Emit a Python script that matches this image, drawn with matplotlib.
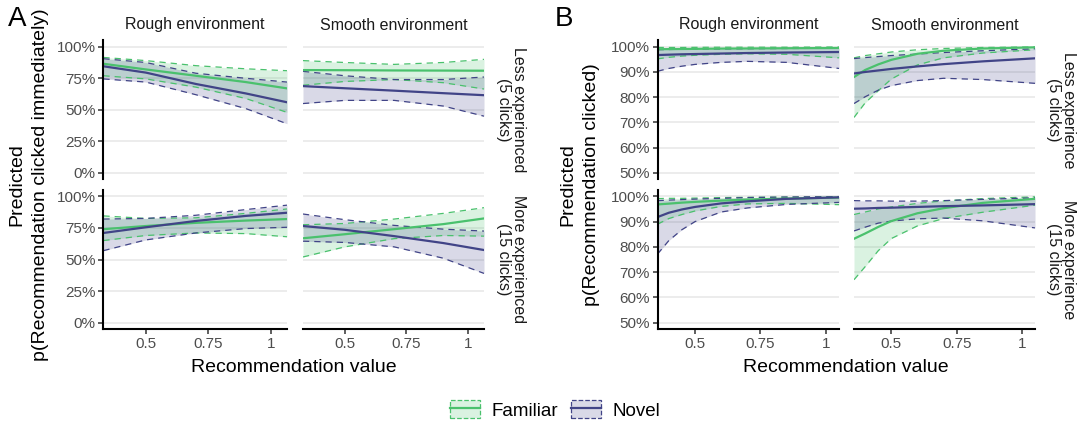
import matplotlib.pyplot as plt
from matplotlib.colors import to_rgba
from matplotlib.patches import Patch
from matplotlib.lines import Line2D
from matplotlib.legend_handler import HandlerTuple

plt.rcParams['font.family'] = ['Liberation Sans', 'DejaVu Sans']

FAM = '#4AC16D'
NOV = '#414487'
W, H = 1083, 428

# ---- panel A: p(clicked immediately), in %
a_x = [0.33, 0.5, 0.7, 0.9, 1.065]

# rough environment, less experienced
a_rl_fam = [86.5, 82.0, 77.0, 72.0, 67.0]
a_rl_fam_lo = [77.0, 74.5, 68.0, 59.0, 48.0]
a_rl_fam_hi = [91.5, 89.0, 85.0, 82.5, 81.0]
a_rl_nov = [84.5, 79.5, 70.5, 63.0, 56.0]
a_rl_nov_lo = [74.5, 72.0, 62.0, 51.0, 39.0]
a_rl_nov_hi = [90.5, 87.5, 79.0, 75.0, 72.0]
# smooth environment, less experienced
a_sl_fam = [81.5, 81.4, 81.2, 81.1, 81.0]
a_sl_fam_lo = [69.5, 72.5, 74.0, 71.5, 66.5]
a_sl_fam_hi = [89.0, 87.5, 86.0, 87.5, 90.0]
a_sl_nov = [68.8, 67.1, 65.2, 63.2, 61.6]
a_sl_nov_lo = [55.0, 57.5, 57.5, 53.0, 45.0]
a_sl_nov_hi = [80.5, 77.0, 74.0, 74.0, 76.0]
# rough environment, more experienced
a_rm_fam = [74.0, 76.5, 79.0, 80.8, 82.0]
a_rm_fam_lo = [65.0, 69.0, 71.0, 70.5, 68.0]
a_rm_fam_hi = [84.5, 82.5, 83.0, 86.5, 90.0]
a_rm_nov = [71.0, 75.5, 80.5, 84.5, 87.0]
a_rm_nov_lo = [57.0, 65.5, 71.0, 74.5, 75.5]
a_rm_nov_hi = [82.0, 82.5, 85.0, 89.5, 93.0]
# smooth environment, more experienced
a_sm_fam = [66.8, 70.0, 74.0, 78.0, 82.5]
a_sm_fam_lo = [52.0, 60.0, 66.5, 69.0, 68.5]
a_sm_fam_hi = [77.5, 78.5, 82.0, 86.5, 91.0]
a_sm_nov = [76.5, 73.5, 68.5, 63.0, 57.5]
a_sm_nov_lo = [64.5, 63.5, 60.0, 51.0, 39.0]
a_sm_nov_hi = [86.0, 81.5, 77.0, 74.0, 72.5]

# ---- panel B: p(clicked), in %
b_x = [0.357, 0.4, 0.45, 0.5, 0.6, 0.7, 0.85, 1.05]

b_rl_fam = [99.0, 99.05, 99.1, 99.15, 99.25, 99.3, 99.4, 99.5]
b_rl_fam_lo = [95.2, 95.8, 96.3, 96.6, 97.0, 97.2, 97.0, 95.6]
b_rl_fam_hi = [99.7, 99.7, 99.7, 99.75, 99.8, 99.8, 99.8, 99.9]
b_rl_nov = [96.7, 96.85, 97.0, 97.1, 97.3, 97.5, 97.7, 97.9]
b_rl_nov_lo = [90.3, 91.4, 92.3, 93.0, 93.8, 94.2, 93.8, 91.4]
b_rl_nov_hi = [98.8, 98.9, 99.0, 99.05, 99.1, 99.2, 99.3, 99.4]

b_sl_fam = [88.0, 90.8, 93.0, 94.8, 97.2, 98.4, 99.3, 99.75]
b_sl_fam_lo = [72.0, 77.8, 82.6, 87.2, 92.8, 95.6, 97.5, 98.8]
b_sl_fam_hi = [95.6, 96.5, 97.2, 97.9, 98.8, 99.3, 99.7, 99.9]
b_sl_nov = [89.4, 90.0, 90.6, 91.2, 92.2, 93.1, 94.2, 95.4]
b_sl_nov_lo = [77.5, 80.2, 82.8, 84.6, 86.6, 87.5, 87.0, 85.5]
b_sl_nov_hi = [95.3, 95.7, 96.1, 96.5, 97.1, 97.7, 98.4, 99.2]

b_rm_fam = [96.8, 97.1, 97.5, 97.8, 98.3, 98.7, 99.1, 99.5]
b_rm_fam_lo = [89.0, 91.2, 92.8, 94.2, 96.0, 97.0, 97.2, 96.7]
b_rm_fam_hi = [99.1, 99.2, 99.2, 99.3, 99.5, 99.6, 99.7, 99.8]
b_rm_nov = [91.8, 93.5, 94.8, 95.8, 97.2, 98.0, 99.0, 99.6]
b_rm_nov_lo = [77.2, 82.5, 86.8, 90.0, 93.8, 95.4, 96.8, 97.6]
b_rm_nov_hi = [98.3, 98.5, 98.7, 98.9, 99.2, 99.5, 99.7, 99.9]

b_sm_fam = [83.2, 85.3, 87.9, 90.2, 93.3, 95.3, 97.4, 99.0]
b_sm_fam_lo = [67.0, 72.2, 78.5, 83.3, 88.3, 91.2, 93.7, 96.5]
b_sm_fam_hi = [92.8, 93.8, 95.0, 95.8, 97.2, 98.2, 99.1, 99.8]
b_sm_nov = [95.1, 95.2, 95.4, 95.5, 95.8, 96.1, 96.4, 96.9]
b_sm_nov_lo = [86.3, 87.8, 89.4, 90.2, 91.1, 91.4, 90.3, 87.5]
b_sm_nov_hi = [98.3, 98.2, 98.2, 98.1, 98.1, 98.3, 98.8, 99.4]

envs = ['Rough environment', 'Smooth environment']
x_ticks = [0.5, 0.75, 1]
x_ticklabels = ['0.5', '0.75', '1']

panels = [
    dict(tag='A', x=a_x, cols=[(103.4, 287), (303, 484)],
         ylim=(-5, 105), yticks=[0, 25, 50, 75, 100],
         ylabel=['Predicted', 'p(Recommendation clicked immediately)'],
         rows=['Less experienced\n(5 clicks)', 'More experienced\n(15 clicks)'],
         strip_x=511, ylab_x=(17, 41), tag_x=17,
         data=[[(a_rl_fam, a_rl_fam_lo, a_rl_fam_hi, a_rl_nov, a_rl_nov_lo, a_rl_nov_hi),
                (a_sl_fam, a_sl_fam_lo, a_sl_fam_hi, a_sl_nov, a_sl_nov_lo, a_sl_nov_hi)],
               [(a_rm_fam, a_rm_fam_lo, a_rm_fam_hi, a_rm_nov, a_rm_nov_lo, a_rm_nov_hi),
                (a_sm_fam, a_sm_fam_lo, a_sm_fam_hi, a_sm_nov, a_sm_nov_lo, a_sm_nov_hi)]]),
    dict(tag='B', x=b_x, cols=[(657.6, 839), (854, 1035)],
         ylim=(47.5, 102.5), yticks=[50, 60, 70, 80, 90, 100],
         ylabel=['Predicted', 'p(Recommendation clicked)'],
         rows=['Less experience\n(5 clicks)', 'More experience\n(15 clicks)'],
         strip_x=1061, ylab_x=(568, 592), tag_x=564,
         data=[[(b_rl_fam, b_rl_fam_lo, b_rl_fam_hi, b_rl_nov, b_rl_nov_lo, b_rl_nov_hi),
                (b_sl_fam, b_sl_fam_lo, b_sl_fam_hi, b_sl_nov, b_sl_nov_lo, b_sl_nov_hi)],
               [(b_rm_fam, b_rm_fam_lo, b_rm_fam_hi, b_rm_nov, b_rm_nov_lo, b_rm_nov_hi),
                (b_sm_fam, b_sm_fam_lo, b_sm_fam_hi, b_sm_nov, b_sm_nov_lo, b_sm_nov_hi)]]),
]
row_px = [(40.4, 179.3), (190, 329)]

fig = plt.figure(figsize=(W / 100, H / 100), dpi=100)


def band(ax, x, lo, hi, color):
    ax.fill_between(x, lo, hi, color=color, alpha=0.2, lw=0)


def edges(ax, x, lo, hi, color):
    for s in (lo, hi):
        ax.plot(x, s, color=color, lw=0.9, ls=(0, (5, 4)))


for p in panels:
    for r, (y0, y1) in enumerate(row_px):
        for c, (x0, x1) in enumerate(p['cols']):
            ax = fig.add_axes([x0 / W, 1 - y1 / H, (x1 - x0) / W, (y1 - y0) / H])
            fam, fam_lo, fam_hi, nov, nov_lo, nov_hi = p['data'][r][c]
            x = p['x']
            band(ax, x, fam_lo, fam_hi, FAM)
            band(ax, x, nov_lo, nov_hi, NOV)
            edges(ax, x, fam_lo, fam_hi, FAM)
            edges(ax, x, nov_lo, nov_hi, NOV)
            ax.plot(x, fam, color=FAM, lw=1.6)
            ax.plot(x, nov, color=NOV, lw=1.6)

            ax.set_xlim(x[0], x[-1])
            ax.set_ylim(*p['ylim'])
            ax.set_yticks(p['yticks'])
            ax.set_yticklabels([f'{v}%' for v in p['yticks']])
            ax.set_xticks(x_ticks)
            ax.set_xticklabels(x_ticklabels)
            ax.set_axisbelow(True)
            ax.yaxis.grid(True, color='#EBEBEB', lw=1.3)
            ax.tick_params(colors='#333333', labelcolor='#4D4D4D', labelsize=11,
                           length=3.5, width=1.1, pad=2)
            for s in ax.spines.values():
                s.set_visible(False)
            if c == 0:
                ax.spines['left'].set_visible(True)
                ax.spines['left'].set_linewidth(1.5)
            else:
                ax.tick_params(axis='y', left=False, labelleft=False)
            if r == 1:
                ax.spines['bottom'].set_visible(True)
                ax.spines['bottom'].set_linewidth(1.5)
            else:
                ax.tick_params(axis='x', bottom=False, labelbottom=False)

            if r == 0:
                fig.text((x0 + x1) / 2 / W, 1 - 25 / H, envs[c], ha='center',
                         va='center', fontsize=11.5, color='#1A1A1A')
            if c == 1:
                fig.text(p['strip_x'] / W, 1 - (y0 + y1) / 2 / H, p['rows'][r],
                         rotation=-90, ha='center', va='center', fontsize=11.5,
                         color='#1A1A1A', linespacing=1.0, multialignment='center')

    left, right = p['cols'][0][0], p['cols'][1][1]
    fig.text((left + right) / 2 / W, 1 - 367 / H, 'Recommendation value',
             ha='center', va='center', fontsize=14)
    for lx, line in zip(p['ylab_x'], p['ylabel']):
        fig.text(lx / W, 1 - 184.5 / H, line, rotation=90,
                 ha='center', va='center', fontsize=14)
    fig.text(p['tag_x'] / W, 1 - 19 / H, p['tag'], ha='center', va='center',
             fontsize=20)

handles = [
    (Patch(facecolor=to_rgba(FAM, 0.2), edgecolor=FAM, linestyle='--', lw=0.9),
     Line2D([], [], color=FAM, lw=1.6)),
    (Patch(facecolor=to_rgba(NOV, 0.2), edgecolor=NOV, linestyle='--', lw=0.9),
     Line2D([], [], color=NOV, lw=1.6)),
]
fig.legend(handles, ['Familiar', 'Novel'], handler_map={tuple: HandlerTuple(ndivide=1)},
           loc='center', bbox_to_anchor=(555 / W, 1 - 410 / H), ncol=2, frameon=False,
           fontsize=13.5, handlelength=1.6, handleheight=1.1, handletextpad=0.6,
           columnspacing=0.7)

fig.savefig('out.png', dpi=100)
